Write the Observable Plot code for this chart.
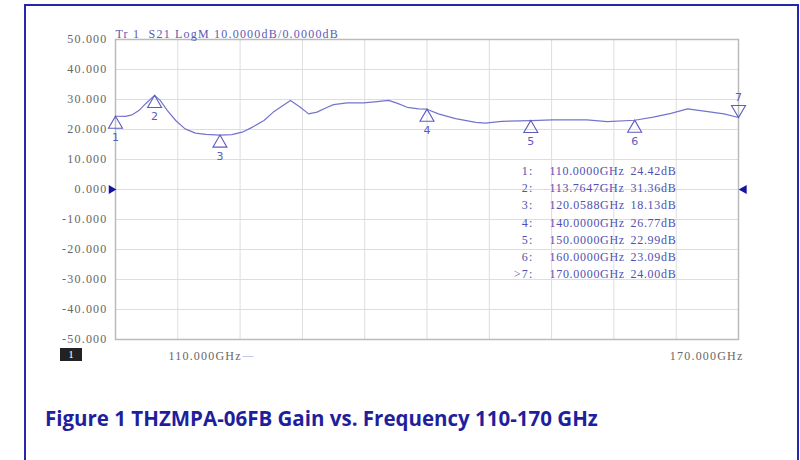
<!DOCTYPE html>
<html>
<head>
<meta charset="utf-8">
<script src="https://cdn.jsdelivr.net/npm/d3@7"></script>
<script src="https://cdn.jsdelivr.net/npm/@observablehq/plot@0.6"></script>
<style>
  body { margin: 0; background: #fff; }
  #wrap { position: relative; width: 800px; height: 460px; overflow: hidden; background: #fff; }
  #frame { position: absolute; left: 24px; top: 4px; width: 771px; height: 480px; border: 2px solid #2626aa; border-bottom: none; }
  #chart { position: absolute; left: 0; top: 0; }
  #chan { position: absolute; left: 60px; top: 348px; width: 22px; height: 13px; background: #222; color: #fff;
          font: 11px "Liberation Serif"; line-height: 13px; text-align: center; }
  #caption { position: absolute; left: 45px; top: 404px; font: bold 20.5px "Open Sans"; color: #1f1f9e; white-space: nowrap; line-height: normal; }
  .vna text { white-space: pre; }
  .vna .ls text, .vna [aria-label="y-axis tick label"] text { letter-spacing: 1.2px; }
</style>
</head>
<body>
<div id="wrap">
  <div id="frame"></div>
  <div id="chart"></div>
  <div id="chan">1</div>
  <div id="caption">Figure 1 THZMPA-06FB Gain vs. Frequency 110-170 GHz</div>
</div>
<script>
// ---- data ----
const freqGHz = [110, 110.96, 111.6, 112.25, 112.9, 113.7647, 114.3, 115.0, 115.8, 116.7, 117.7, 118.7, 120.0588,
  121.2, 122.2, 123.2, 124.3, 125.2, 126.85, 127.8, 128.6, 129.4, 130.4, 131.0, 132.3, 133.9, 135.2, 136.3,
  137.1, 138.1, 139.2, 140.0, 141.1, 142.75, 144.7, 145.6, 147.2, 150.0, 152.1, 154.1, 155.4, 157.35, 160.0,
  161.8, 163.5, 165.1, 166.7, 168.6, 170];
const gainDb = [24.42, 24.4, 24.9, 26.3, 28.6, 31.36, 29.7, 26.3, 23.0, 20.2, 18.8, 18.4, 18.13,
  18.3, 19.1, 20.8, 23.0, 25.8, 29.7, 27.4, 25.2, 25.8, 27.4, 28.3, 28.9, 28.9, 29.3, 29.7,
  28.8, 27.4, 26.9, 26.77, 25.2, 23.6, 22.4, 22.1, 22.7, 22.99, 23.2, 23.2, 23.2, 22.6, 23.09,
  24.1, 25.4, 26.9, 26.1, 25.2, 24.00];

const markerIds = ["1", "2", "3", "4", "5", "6", "7"];
const markerFreq = [110, 113.7647, 120.0588, 140, 150, 160, 170];
const markerGain = [24.42, 31.36, 18.13, 26.77, 22.99, 23.09, 24.00];
const markerFreqText = ["110.0000GHz", "113.7647GHz", "120.0588GHz", "140.0000GHz", "150.0000GHz", "160.0000GHz", "170.0000GHz"];
const markerGainText = ["24.42dB", "31.36dB", "18.13dB", "26.77dB", "22.99dB", "23.09dB", "24.00dB"];
const markerRowLabels = ["1:", "2:", "3:", "4:", "5:", "6:", ">7:"];
const activeMarker = "7";

const yTicks = [-50, -40, -30, -20, -10, 0, 10, 20, 30, 40, 50];
const xGrid = [116, 122, 128, 134, 140, 146, 152, 158, 164];
const refLevel = 0;
const headerText = "Tr 1  S21 LogM 10.0000dB/0.0000dB";
const startLabel = "110.000GHz";
const stopLabel = "170.000GHz";

// ---- build ----
const curve = freqGHz.map((f, i) => ({f, g: gainDb[i]}));
const markers = markerIds.map((id, i) => ({id, f: markerFreq[i], g: markerGain[i]}));
const normal = markers.filter(d => d.id !== activeMarker);
const active = markers.filter(d => d.id === activeMarker);

const trace = "#7474cc";
const mk = "#5c5cc0";
const txt = "#5050b0";
const fmt = d => d3.format(".3f")(d).replace("\u2212", "-");

const chart = Plot.plot({
  width: 800, height: 460,
  marginLeft: 115, marginRight: 62, marginTop: 39, marginBottom: 121,
  className: "vna",
  style: {background: "transparent", fontFamily: "Liberation Serif", fontSize: "12px"},
  x: {domain: [110, 170], axis: null},
  y: {domain: [-50, 50], axis: null},
  marks: [
    Plot.gridX(xGrid, {stroke: "#dddddd", strokeOpacity: 1}),
    Plot.gridY(yTicks, {stroke: "#dddddd", strokeOpacity: 1}),
    Plot.frame({stroke: "#bbbbbb", strokeWidth: 1.5}),
    Plot.axisY(yTicks, {tickSize: 0, tickPadding: 8, tickFormat: fmt, color: "#666", label: null, fontSize: 12}),
    Plot.line(curve, {x: "f", y: "g", stroke: trace, strokeWidth: 1.2}),
    // markers
    Plot.dot(normal, {x: "f", y: "g", symbol: "triangle", r: 5.2, dy: 8, stroke: mk, fill: "none", strokeWidth: 1.1}),
    Plot.text(normal, {x: "f", y: "g", text: "id", dy: 21, fill: mk, fontFamily: "DejaVu Sans", fontSize: 11}),
    Plot.dot(active, {x: "f", y: "g", symbol: "triangle", r: 5.2, dy: -8, rotate: 180, stroke: mk, fill: "none", strokeWidth: 1.1}),
    Plot.text(active, {x: "f", y: "g", text: "id", dy: -20, fill: mk, fontFamily: "DejaVu Sans", fontSize: 11}),
    // reference level arrows
    Plot.dot([{f: 110, g: refLevel}], {x: "f", y: "g", symbol: "triangle2", r: 4.2, rotate: 90, dx: -4.2, fill: "#1414a0"}),
    Plot.dot([{f: 170, g: refLevel}], {x: "f", y: "g", symbol: "triangle2", r: 4.4, rotate: -90, dx: 5.5, fill: "#1414a0"}),
    // marker table
    Plot.text([markerRowLabels.join("\n")], {frameAnchor: "top-left", textAnchor: "end", lineAnchor: "top", dx: 418, dy: 123, lineHeight: 1.44, fill: txt, className: "ls"}),
    Plot.text([markerFreqText.join("\n")], {frameAnchor: "top-left", textAnchor: "start", lineAnchor: "top", dx: 434, dy: 123, lineHeight: 1.44, fill: txt, className: "tb"}),
    Plot.text([markerGainText.join("\n")], {frameAnchor: "top-left", textAnchor: "start", lineAnchor: "top", dx: 515, dy: 123, lineHeight: 1.44, fill: txt, className: "tb"}),
    // header
    Plot.text([headerText], {frameAnchor: "top-left", textAnchor: "start", lineAnchor: "bottom", dy: -2, fill: "#5a5ab4", className: "ls"}),
    // start / stop labels
    Plot.text([startLabel], {frameAnchor: "bottom-left", textAnchor: "start", lineAnchor: "middle", dx: 53, dy: 17, fill: "#666", className: "ls"}),
    Plot.text(["\u2014"], {frameAnchor: "bottom-left", textAnchor: "start", lineAnchor: "middle", dx: 127, dy: 16, fill: "#9a9ade", fontSize: 11}),
    Plot.text([stopLabel], {frameAnchor: "bottom-right", textAnchor: "end", lineAnchor: "middle", dx: 5, dy: 17, fill: "#666", className: "ls"})
  ]
});
document.getElementById("chart").appendChild(chart);
</script>
<style>.vna .tb text { letter-spacing: 0.7px; }</style>
</body>
</html>
